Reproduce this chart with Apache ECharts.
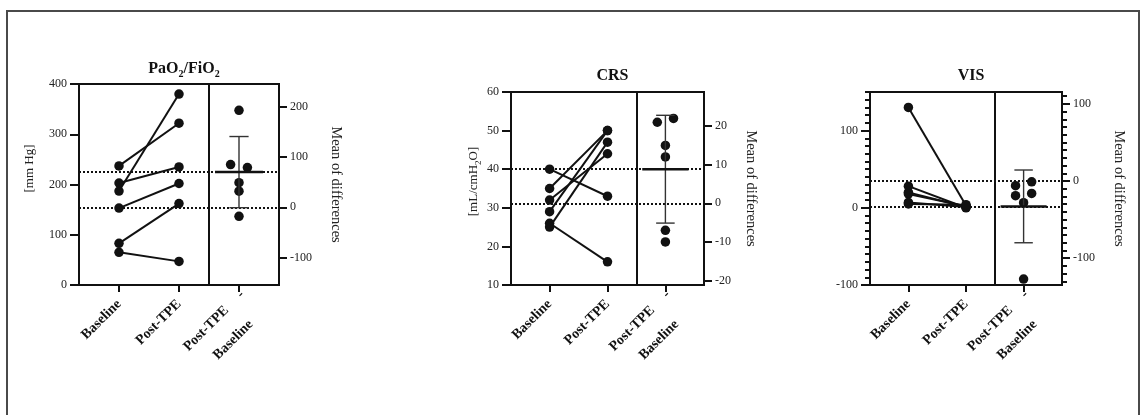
<!DOCTYPE html>
<html><head><meta charset="utf-8">
<script src="https://cdn.jsdelivr.net/npm/echarts@6/dist/echarts.min.js"></script>
<style>html,body{margin:0;padding:0;background:#fff}#c{width:1140px;height:415px}</style>
</head><body><div id="c"></div>
<script>
// ---------- data ----------
const xLabels = ['Baseline', 'Post-TPE', 'Post-TPE - Baseline'];

const paoBaseline = [237, 187, 203, 153, 83, 65];
const paoPost     = [322, 380, 235, 202, 162, 47];
const paoRange    = [0, 400];
const paoLeftTicks  = [0, 100, 200, 300, 400];
const paoRightTicks = [-100, 0, 100, 200];

const crsBaseline = [35, 29, 25, 32, 40, 26];
const crsPost     = [50, 50, 47, 44, 33, 16];
const crsRange    = [10, 60];
const crsLeftTicks  = [10, 20, 30, 40, 50, 60];
const crsRightTicks = [-20, -10, 0, 10, 20];

const visBaseline = [130, 28, 20, 18, 7, 5];
const visPost     = [3, 0, 1, 2, 1, 4];
const visRange    = [-100, 150];
const visLeftTicks  = [-100, 0, 100];
const visRightTicks = [-100, 0, 100];
const visMinorStep  = 10;

const titles = ['{b|PaO}{s|2}{b|/FiO}{s|2}', '{b|CRS}', '{b|VIS}'];
const yNames = ['{n|[mm Hg]}', '{n|[mL/cmH}{s|2}{n|O]}', ''];
const rightName = 'Mean of differences';

// ---------- layout ----------
const FONT = '"Liberation Serif","Times New Roman",serif';
const INK = '#111';
const DIFF_LABEL_SHIFT = 0.25;   // label anchor nudge for the two-line tick label
const layouts = [
  {left: 79,  top: 84, width: 200, height: 201, titleTop: 54, gapL: 40, gapR: 48, lift: 32},
  {left: 511, top: 92, width: 193, height: 193, titleTop: 61, gapL: 28, gapR: 38, lift: 14},
  {left: 870, top: 92, width: 192, height: 193, titleTop: 61, gapL: 36, gapR: 48, lift: 0}
];
const panelData = [
  {base: paoBaseline, post: paoPost, range: paoRange, lt: paoLeftTicks, rt: paoRightTicks, minor: 0},
  {base: crsBaseline, post: crsPost, range: crsRange, lt: crsLeftTicks, rt: crsRightTicks, minor: 0},
  {base: visBaseline, post: visPost, range: visRange, lt: visLeftTicks, rt: visRightTicks, minor: visMinorStep}
];

const mean = a => a.reduce((s, v) => s + v, 0) / a.length;
const sd = a => { const m = mean(a); return Math.sqrt(a.reduce((s, v) => s + (v - m) * (v - m), 0) / (a.length - 1)); };

function jitter(vals, span) {
  const idx = vals.map((v, i) => i).sort((a, b) => vals[a] - vals[b]);
  const off = new Array(vals.length).fill(0);
  let g = [idx[0]];
  const flush = () => {
    if (g.length > 1) { g.sort((a, b) => a - b); g.forEach((k, j) => { off[k] = (j - (g.length - 1) / 2) * 0.28; }); }
  };
  for (let i = 1; i < idx.length; i++) {
    if (vals[idx[i]] - vals[idx[i - 1]] < 0.03 * span) g.push(idx[i]); else { flush(); g = [idx[i]]; }
  }
  flush();
  return off;
}
function minorVals(lo, hi, step) {
  const out = [];
  for (let v = Math.ceil(lo / step) * step; v <= hi + 1e-9; v += step) out.push(v);
  return out;
}

const nameRich = {
  n: {fontFamily: FONT, fontSize: 13, color: '#222', lineHeight: 18},
  m: {fontFamily: FONT, fontSize: 14.5, color: '#222', lineHeight: 18},
  s: {fontFamily: FONT, fontSize: 9, color: '#222', lineHeight: 10, verticalAlign: 'bottom'}
};
const titleRich = {
  b: {fontFamily: FONT, fontSize: 16, fontWeight: 'bold', color: INK, lineHeight: 20},
  s: {fontFamily: FONT, fontSize: 10, fontWeight: 'bold', color: INK, lineHeight: 10, verticalAlign: 'bottom'}
};
const xRich = {
  l: {fontFamily: FONT, fontSize: 14, fontWeight: 'bold', color: INK},
  c: {fontFamily: FONT, fontSize: 14, fontWeight: 'bold', color: INK, width: 86, align: 'center', lineHeight: 27}
};
function xFormatter(v) {
  const i = Math.round(v);
  const t = xLabels[i];
  if (t.indexOf(' - ') >= 0) {
    const p = t.split(' - ');
    return '{c|' + p[0] + '     -}\n{c|' + p[1] + '}';
  }
  return '{l|' + t + '}';
}
const tickFont = {fontFamily: FONT, fontSize: 12, color: '#222'};

const grid = [], xAxis = [], yAxis = [], series = [], title = [];

layouts.forEach((L, pi) => {
  const D = panelData[pi];
  const bm = mean(D.base), pm = mean(D.post);
  const diffs = D.post.map((p, i) => p - D.base[i]);
  const md = mean(diffs), s = sd(diffs);
  const rMin = D.range[0] - bm, rMax = D.range[1] - bm;

  grid.push({left: L.left, top: L.top, width: L.width, height: L.height, show: true,
    borderColor: INK, borderWidth: 2, backgroundColor: 'transparent', containLabel: false});

  title.push({text: titles[pi], left: L.left + L.width / 2, top: L.titleTop, textAlign: 'center',
    textStyle: {rich: titleRich}});

  const xIdx = xAxis.length;
  xAxis.push({type: 'value', gridIndex: pi, min: -2 / 3, max: 8 / 3,
    splitLine: {show: false},
    axisLine: {show: true, onZero: false, lineStyle: {color: INK, width: 2}},
    axisTick: {show: true, customValues: [0, 1, 2], length: 7, lineStyle: {color: INK, width: 2}},
    axisLabel: {customValues: [0, 1], rotate: 45, margin: 17, formatter: xFormatter, rich: xRich,
      showMinLabel: true, showMaxLabel: true}});
  // the two-line label of the third column
  xAxis.push({type: 'value', gridIndex: pi, min: -2 / 3, max: 8 / 3, position: 'bottom',
    splitLine: {show: false}, axisLine: {show: false, onZero: false}, axisTick: {show: false},
    axisLabel: {customValues: [2 + DIFF_LABEL_SHIFT], rotate: 45, margin: 15, rich: xRich,
      showMinLabel: true, showMaxLabel: true, formatter: () => xFormatter(2)}});

  const leftIdx = yAxis.length;
  yAxis.push({type: 'value', gridIndex: pi, position: 'left', min: D.range[0], max: D.range[1],
    splitLine: {show: false},
    axisLine: {show: true, onZero: false, lineStyle: {color: INK, width: 2}},
    axisTick: {show: true, customValues: D.lt, length: 9, lineStyle: {color: INK, width: 2}},
    axisLabel: Object.assign({customValues: D.lt, margin: 12}, tickFont),
    name: yNames[pi], nameLocation: 'middle', nameGap: L.gapL, nameRotate: 90,
    nameTextStyle: {rich: nameRich, padding: [0, 0, 0, L.lift]}});

  const rightIdx = yAxis.length;
  yAxis.push({type: 'value', gridIndex: pi, position: 'right', min: rMin, max: rMax,
    splitLine: {show: false},
    axisLine: {show: true, onZero: false, lineStyle: {color: INK, width: 2}},
    axisTick: {show: true, customValues: D.rt, length: 8, lineStyle: {color: INK, width: 2}},
    axisLabel: Object.assign({customValues: D.rt, margin: 11}, tickFont),
    name: '{m|' + rightName + '}', nameLocation: 'middle', nameGap: L.gapR, nameRotate: -90,
    nameTextStyle: {rich: nameRich}});

  if (D.minor) {
    yAxis.push({type: 'value', gridIndex: pi, position: 'left', min: D.range[0], max: D.range[1],
      splitLine: {show: false}, axisLine: {show: false, onZero: false},
      axisTick: {show: true, customValues: minorVals(D.range[0], D.range[1], D.minor), length: 5, lineStyle: {color: INK, width: 2}},
      axisLabel: {show: false}});
    yAxis.push({type: 'value', gridIndex: pi, position: 'right', min: rMin, max: rMax,
      splitLine: {show: false}, axisLine: {show: false, onZero: false},
      axisTick: {show: true, customValues: minorVals(rMin, rMax, D.minor), length: 5, lineStyle: {color: INK, width: 2}},
      axisLabel: {show: false}});
  }

  // paired lines
  D.base.forEach((b, i) => {
    const ser = {type: 'line', xAxisIndex: xIdx, yAxisIndex: leftIdx,
      data: [[0, b], [1, D.post[i]]], symbol: 'circle', symbolSize: 9.5, z: 4,
      lineStyle: {color: INK, width: 2}, itemStyle: {color: INK, opacity: 1}, silent: true};
    if (i === 0) {
      ser.markLine = {silent: true, symbol: 'none', label: {show: false}, z: 2,
        data: [
          {yAxis: bm, lineStyle: {type: [2, 2], color: INK, width: 2}},
          {yAxis: pm, lineStyle: {type: [2, 2], color: INK, width: 2}},
          {xAxis: 1.5, lineStyle: {type: 'solid', color: INK, width: 2}}
        ]};
    }
    series.push(ser);
  });

  // differences
  const off = jitter(diffs, D.range[1] - D.range[0]);
  series.push({type: 'scatter', xAxisIndex: xIdx, yAxisIndex: rightIdx, symbolSize: 9.5, z: 4,
    itemStyle: {color: INK, opacity: 1}, data: diffs.map((d, i) => [2 + off[i], d])});

  // mean +/- SD
  series.push({type: 'custom', xAxisIndex: xIdx, yAxisIndex: rightIdx, z: 5,
    data: [[2, md, md - s, md + s]],
    renderItem: (params, api) => {
      const x = api.value(0);
      const c = api.coord([x, api.value(1)]);
      const lo = api.coord([x, api.value(2)]);
      const hi = api.coord([x, api.value(3)]);
      const half = api.size([0.4, 0])[0], cap = api.size([0.16, 0])[0];
      const st = {stroke: '#333', lineWidth: 1.4};
      return {type: 'group', children: [
        {type: 'line', shape: {x1: lo[0], y1: lo[1], x2: hi[0], y2: hi[1]}, style: st},
        {type: 'line', shape: {x1: hi[0] - cap, y1: hi[1], x2: hi[0] + cap, y2: hi[1]}, style: st},
        {type: 'line', shape: {x1: lo[0] - cap, y1: lo[1], x2: lo[0] + cap, y2: lo[1]}, style: st},
        {type: 'line', shape: {x1: c[0] - half, y1: c[1], x2: c[0] + half, y2: c[1]}, style: {stroke: INK, lineWidth: 2.5}}
      ]};
    }});
});

const chart = echarts.init(document.getElementById('c'), null, {renderer: 'canvas'});
chart.setOption({
  animation: false,
  backgroundColor: '#fff',
  title, grid, xAxis, yAxis, series,
  graphic: [{type: 'rect', silent: true, z: 100,
    shape: {x: 7, y: 11, width: 1132, height: 420},
    style: {fill: 'none', stroke: '#4a4a4a', lineWidth: 2}}]
});
</script></body></html>
